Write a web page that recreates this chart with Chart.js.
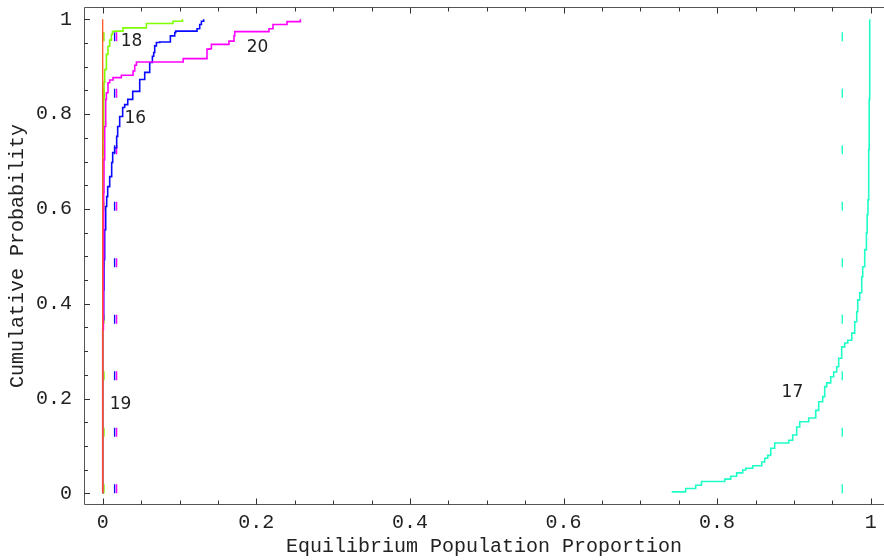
<!DOCTYPE html>
<html>
<head>
<meta charset="utf-8">
<script src="https://cdn.jsdelivr.net/npm/chart.js@4.4.1/dist/chart.umd.min.js"></script>
<style>
  html, body { margin: 0; padding: 0; background: #ffffff; }
  canvas { display: block; }
</style>
</head>
<body>
<canvas id="cdf" width="884" height="560"></canvas>
<script>
// Empirical cumulative distributions of the equilibrium population proportion,
// one step curve per population type, plus a dashed vertical line at each mean.

const seriesNames = ['16', '17', '18', '19', '20'];

const x16 = [0, 0.0004, 0.0013, 0.0017, 0.0026, 0.0039, 0.0052, 0.0065, 0.0091, 0.0117,
             0.0130, 0.0156, 0.0182, 0.0195, 0.0221, 0.0260, 0.0286, 0.0326, 0.0391, 0.0482,
             0.0547, 0.0612, 0.0647, 0.0664, 0.0677, 0.0699, 0.0742, 0.0881, 0.0938, 0.0951,
             0.1228, 0.1263, 0.1285, 0.1315];
const y16 = [0, 0.366, 0.429, 0.493, 0.556, 0.605, 0.626, 0.647, 0.668, 0.698,
             0.719, 0.729, 0.753, 0.774, 0.795, 0.814, 0.820, 0.831, 0.848, 0.873,
             0.888, 0.909, 0.922, 0.930, 0.944, 0.951, 0.952, 0.965, 0.972, 0.975,
             0.980, 0.989, 0.996, 1.0];

const x17 = [0.7409, 0.7591, 0.7721, 0.7796, 0.8099, 0.8177, 0.8255, 0.8333, 0.8372, 0.8464,
             0.8581, 0.8620, 0.8659, 0.8698, 0.8750, 0.8932, 0.8984, 0.9036, 0.9076, 0.9193,
             0.9284, 0.9323, 0.9375, 0.9401, 0.9427, 0.9479, 0.9518, 0.9557, 0.9583, 0.9622,
             0.9661, 0.9701, 0.9753, 0.9792, 0.9818, 0.9831, 0.9857, 0.9883, 0.9896, 0.9922,
             0.9944, 0.9954, 0.9964, 0.9974, 0.9980, 0.9987];
const y17 = [0.003, 0.010, 0.017, 0.025, 0.030, 0.036, 0.043, 0.049, 0.053, 0.058,
             0.066, 0.074, 0.080, 0.095, 0.106, 0.112, 0.123, 0.140, 0.151, 0.159,
             0.175, 0.193, 0.204, 0.225, 0.233, 0.246, 0.256, 0.267, 0.285, 0.309,
             0.317, 0.323, 0.338, 0.362, 0.383, 0.408, 0.423, 0.457, 0.478, 0.514,
             0.550, 0.588, 0.619, 0.725, 0.831, 1.0];

const x18 = [0, 0.0004, 0.0013, 0.0017, 0.0026, 0.0048, 0.0069, 0.0091, 0.0113, 0.0126,
             0.0156, 0.0264, 0.0569, 0.0915, 0.1038];
const y18 = [0, 0.746, 0.831, 0.867, 0.894, 0.926, 0.943, 0.956, 0.968, 0.974,
             0.975, 0.982, 0.991, 0.996, 1.0];

const x19 = [0, 0];
const y19 = [0, 1.0];

const x20 = [0, 0, 0.0009, 0.0013, 0.0017, 0.0026, 0.0039, 0.0048, 0.0069, 0.0091,
             0.0134, 0.0243, 0.0395, 0.0417, 0.0439, 0.1048, 0.1358, 0.1393, 0.1415, 0.1644,
             0.1710, 0.1719, 0.2165, 0.2217, 0.2400, 0.2574];
const y20 = [0, 0.345, 0.493, 0.634, 0.704, 0.774, 0.831, 0.845, 0.866, 0.872,
             0.877, 0.882, 0.891, 0.903, 0.910, 0.917, 0.937, 0.938, 0.947, 0.954,
             0.965, 0.974, 0.980, 0.989, 0.995, 1.0];

// Mean equilibrium proportion per type (order: 16, 17, 18, 19, 20)
const meanValues = [0.0155, 0.963, 0.0017, 0.0, 0.0181];

// Where each curve's name is written (data coordinates)
const labelX = [0.0425, 0.898, 0.0375, 0.0232, 0.2016];
const labelY = [0.791, 0.213, 0.953, 0.187, 0.941];

const majorTicks = [0, 0.2, 0.4, 0.6, 0.8, 1];
const tickLabels = ['0', '0.2', '0.4', '0.6', '0.8', '1'];
const minorStep = 0.05;

const colors = {
  '16': '#0a0aff',
  '17': '#1effc8',
  '18': '#80ff00',
  '19': '#ff5522',
  '20': '#ff00ff'
};

const seriesX = { '16': x16, '17': x17, '18': x18, '19': x19, '20': x20 };
const seriesY = { '16': y16, '17': y17, '18': y18, '19': y19, '20': y20 };

const allTicks = [];
for (let i = 0; i <= Math.round(1 / minorStep); i++) allTicks.push(+(i * minorStep).toFixed(4));
const isMajor = v => majorTicks.some(m => Math.abs(m - v) < 1e-9);
const tickText = v => {
  const i = majorTicks.findIndex(m => Math.abs(m - v) < 1e-9);
  return i >= 0 ? tickLabels[i] : '';
};

const curve = (name, width) => ({
  label: name,
  data: seriesX[name].map((x, i) => ({ x: x, y: seriesY[name][i] })),
  showLine: true,
  stepped: 'before',
  borderColor: colors[name],
  borderWidth: width,
  pointRadius: 0,
  pointHoverRadius: 0,
  fill: false
});

const meanLine = (name, idx) => ({
  label: name + ' mean',
  data: [{ x: meanValues[idx], y: 0 }, { x: meanValues[idx], y: 1 }],
  showLine: true,
  borderColor: colors[name],
  borderWidth: 1.4,
  borderDash: [9, 47.5],
  borderCapStyle: 'butt',
  pointRadius: 0,
  pointHoverRadius: 0,
  fill: false
});

// first dataset is painted last (on top)
const datasets = [
  curve('19', 1.3), curve('20', 1.6), curve('18', 1.6), curve('16', 1.6), curve('17', 1.6),
  meanLine('18', 2), meanLine('19', 3), meanLine('20', 4), meanLine('16', 0), meanLine('17', 1)
];

const monoFont = { family: "'Liberation Mono', 'Courier New', monospace", size: 20 };
const noGrid = { display: false, drawTicks: false, tickLength: 0 };

// Frame with inward tick marks on the left, bottom and top edges
const framePlugin = {
  id: 'frame',
  beforeDatasetsDraw(chart) {
    const { ctx, chartArea: a, scales: { x, y } } = chart;
    const L = a.left + 0.5, B = a.bottom, T = a.top;
    ctx.save();
    ctx.lineWidth = 1;
    ctx.strokeStyle = '#555555';
    ctx.beginPath();
    ctx.moveTo(a.right, T); ctx.lineTo(L, T); ctx.lineTo(L, B); ctx.lineTo(a.right, B);
    ctx.stroke();
    ctx.strokeStyle = '#333333';
    ctx.beginPath();
    allTicks.forEach(v => {
      const len = isMajor(v) ? 6 : 4;
      const px = Math.round(x.getPixelForValue(v)) + 0.5;
      ctx.moveTo(px, B); ctx.lineTo(px, B - len);
      ctx.moveTo(px, T); ctx.lineTo(px, T + len);
      const py = Math.round(y.getPixelForValue(v)) + 0.5;
      ctx.moveTo(a.left, py); ctx.lineTo(a.left + len, py);
    });
    ctx.stroke();
    ctx.restore();
  },
  afterDatasetsDraw(chart) {
    const { ctx, scales: { x, y } } = chart;
    ctx.save();
    ctx.fillStyle = '#222222';
    ctx.font = "17px 'DejaVu Sans', sans-serif";
    ctx.textAlign = 'center';
    ctx.textBaseline = 'middle';
    seriesNames.forEach((n, i) => {
      ctx.fillText(n, x.getPixelForValue(labelX[i]), y.getPixelForValue(labelY[i]));
    });
    ctx.restore();
  }
};

new Chart(document.getElementById('cdf'), {
  type: 'scatter',
  data: { datasets: datasets },
  plugins: [framePlugin],
  options: {
    responsive: false,
    animation: false,
    devicePixelRatio: 1,
    layout: { padding: { top: 7.5, left: 0, right: 0, bottom: 0 } },
    plugins: { legend: { display: false }, tooltip: { enabled: false } },
    scales: {
      x: {
        type: 'linear',
        min: -0.02435,
        max: 1.0173,
        grid: noGrid,
        border: { display: false },
        afterBuildTicks: s => { s.ticks = allTicks.map(v => ({ value: v })); },
        afterFit: s => { s.height = 55.5; s.paddingLeft = 0; s.paddingRight = 0; },
        ticks: {
          autoSkip: false, maxRotation: 0, minRotation: 0, padding: 6,
          color: '#222222', font: monoFont, callback: v => tickText(v)
        },
        title: {
          display: true, text: 'Equilibrium Population Proportion',
          color: '#222222', font: monoFont, padding: { top: 0, bottom: 1 }
        }
      },
      y: {
        type: 'linear',
        min: -0.02363,
        max: 1.0249,
        grid: noGrid,
        border: { display: false },
        afterBuildTicks: s => { s.ticks = allTicks.map(v => ({ value: v })); },
        afterFit: s => { s.width = 84; s.paddingTop = 0; s.paddingBottom = 0; },
        ticks: {
          autoSkip: false, padding: 12,
          color: '#222222', font: monoFont, callback: v => tickText(v)
        },
        title: {
          display: true, text: 'Cumulative Probability',
          color: '#222222', font: monoFont, padding: { top: 6, bottom: 0 }
        }
      }
    }
  }
});
</script>
</body>
</html>
